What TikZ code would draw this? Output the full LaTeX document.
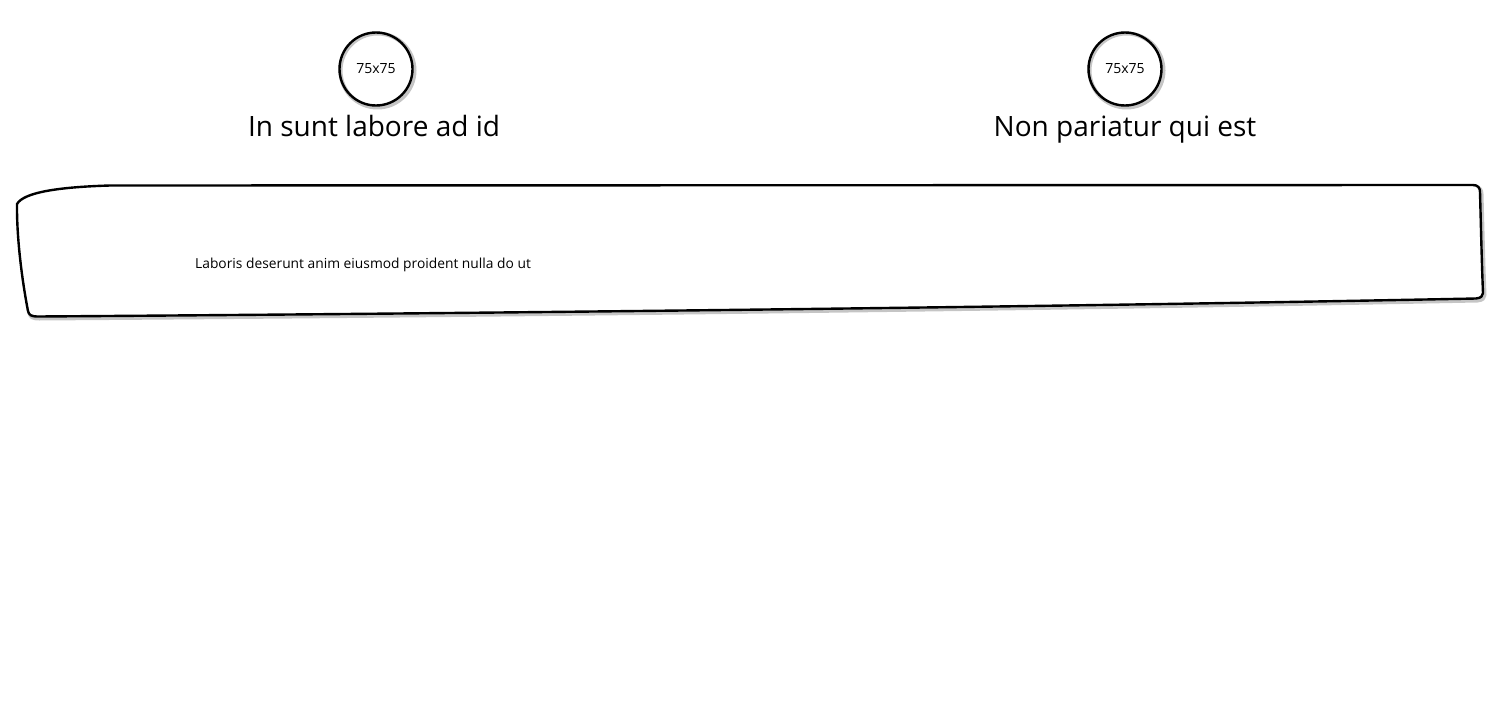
\documentclass[tikz,border=0pt]{standalone}
\usepackage{fontspec}
\setmainfont{Open Sans}
\begin{document}
\begin{tikzpicture}[x=1pt,y=-1pt,
  ink/.style={draw=black,line width=2.4pt,line join=round},
  shade1/.style={draw=black!45,line width=4pt,opacity=0.5,line join=round},
  title/.style={font=\fontsize{28}{32}\selectfont,inner sep=0pt,anchor=base},
  avatar/.style={circle,minimum size=73pt,inner sep=0pt,font=\fontsize{14}{16}\selectfont},
  body/.style={font=\fontsize{13.8}{16}\selectfont,inner sep=0pt,anchor=base west}]
\useasboundingbox (0,0) rectangle (1500,720);
% shadows of circles
\draw[shade1] (377.5,70.5) circle (37);
\draw[shade1] (1126.5,70.5) circle (37);
\node[avatar,ink] (c1) at (376,69) {75x75};
\node[avatar,ink] (c2) at (1125,69) {75x75};
\node[title] (t1) at (374,136) {In sunt labore ad id};
\node[title] (t2) at (1125,136) {Non pariatur qui est};
% card
\def\cardpath{(17,204) .. controls (24,192) and (60,187) .. (110,185.5)
  -- (1473,185) .. controls (1478,185) and (1480,188) .. (1480,192)
  .. controls (1481,230) and (1482,270) .. (1483,293)
  .. controls (1483,296) and (1481,298) .. (1476,298.5)
  .. controls (1000,308) and (400,314) .. (38,316.5)
  .. controls (31,316.5) and (29,315) .. (28,311)
  .. controls (22,280) and (17,240) .. (17,208) -- cycle}
\draw[shade1,shift={(1.5,2)}] \cardpath;
\draw[ink,fill=white] \cardpath;
\node[body] (txt) at (195,268) {Laboris deserunt anim eiusmod proident nulla do ut};
\end{tikzpicture}
\end{document}
